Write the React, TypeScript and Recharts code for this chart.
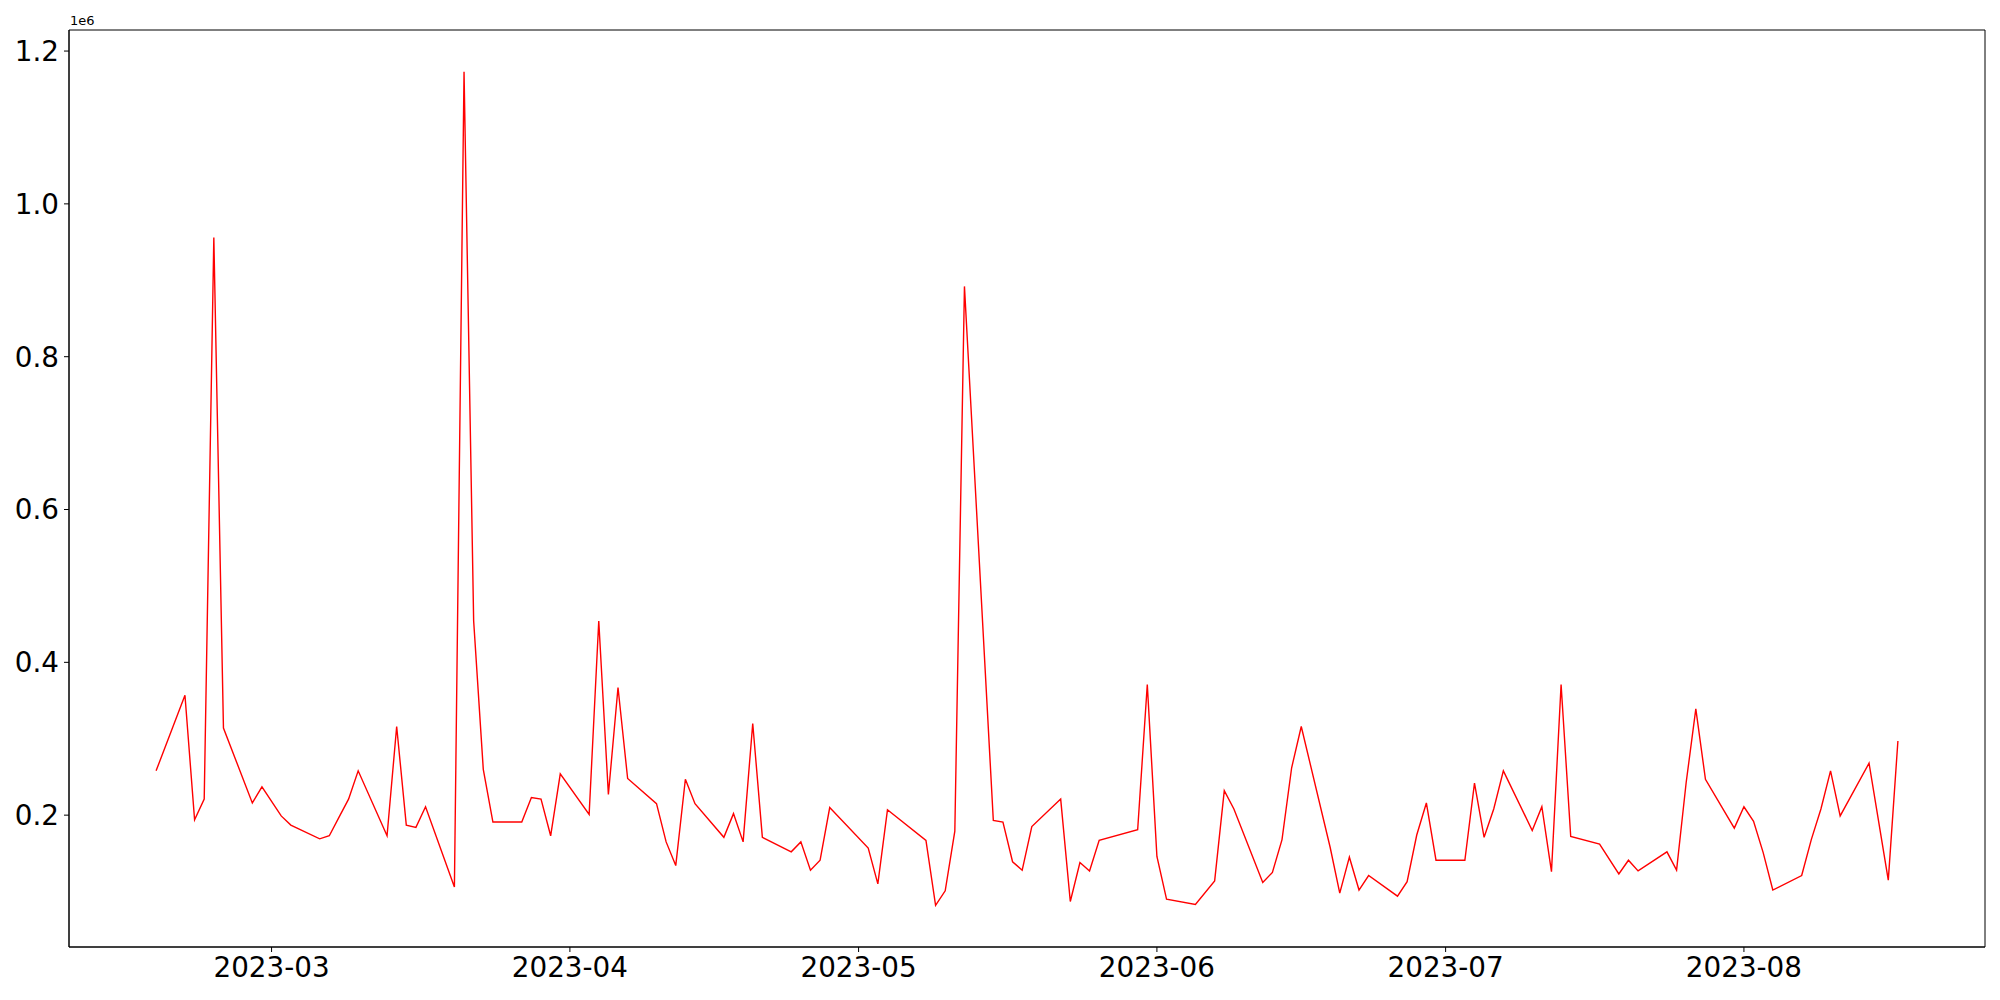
import React from "react";
import { LineChart, Line, XAxis, YAxis, ReferenceArea } from "recharts";

const dates: string[] = [
  "2023-02-17", "2023-02-20", "2023-02-21", "2023-02-22", "2023-02-23", "2023-02-24",
  "2023-02-27", "2023-02-28", "2023-03-02", "2023-03-03", "2023-03-06", "2023-03-07",
  "2023-03-08", "2023-03-09", "2023-03-10", "2023-03-13", "2023-03-14", "2023-03-15",
  "2023-03-16", "2023-03-17", "2023-03-20", "2023-03-21", "2023-03-22", "2023-03-23",
  "2023-03-24", "2023-03-27", "2023-03-28", "2023-03-29", "2023-03-30", "2023-03-31",
  "2023-04-03", "2023-04-04", "2023-04-05", "2023-04-06", "2023-04-07", "2023-04-10",
  "2023-04-11", "2023-04-12", "2023-04-13", "2023-04-14", "2023-04-17", "2023-04-18",
  "2023-04-19", "2023-04-20", "2023-04-21", "2023-04-24", "2023-04-25", "2023-04-26",
  "2023-04-27", "2023-04-28", "2023-05-02", "2023-05-03", "2023-05-04", "2023-05-08",
  "2023-05-09", "2023-05-10", "2023-05-11", "2023-05-12", "2023-05-15", "2023-05-16",
  "2023-05-17", "2023-05-18", "2023-05-19", "2023-05-22", "2023-05-23", "2023-05-24",
  "2023-05-25", "2023-05-26", "2023-05-30", "2023-05-31", "2023-06-01", "2023-06-02",
  "2023-06-05", "2023-06-07", "2023-06-08", "2023-06-09", "2023-06-12", "2023-06-13",
  "2023-06-14", "2023-06-15", "2023-06-16", "2023-06-19", "2023-06-20", "2023-06-21",
  "2023-06-22", "2023-06-23", "2023-06-26", "2023-06-27", "2023-06-28", "2023-06-29",
  "2023-06-30", "2023-07-03", "2023-07-04", "2023-07-05", "2023-07-06", "2023-07-07",
  "2023-07-10", "2023-07-11", "2023-07-12", "2023-07-13", "2023-07-14", "2023-07-17",
  "2023-07-19", "2023-07-20", "2023-07-21", "2023-07-24", "2023-07-25", "2023-07-26",
  "2023-07-27", "2023-07-28", "2023-07-31", "2023-08-01", "2023-08-02", "2023-08-03",
  "2023-08-04", "2023-08-07", "2023-08-08", "2023-08-09", "2023-08-10", "2023-08-11",
  "2023-08-14", "2023-08-16", "2023-08-17",
];

const values: number[] = [
  258000, 357000, 194000, 221000, 956000, 314000,
  216000, 237000, 199000, 187000, 169000, 173000,
  197000, 221000, 258000, 173000, 316000, 187000,
  184000, 211000, 106000, 1173000, 454000, 260000,
  191000, 191000, 223000, 221000, 173000, 254000,
  201000, 454000, 227000, 367000, 248000, 215000,
  165000, 134000, 247000, 215000, 171000, 202000,
  165000, 320000, 171000, 152000, 165000, 128000,
  141000, 210000, 157000, 110000, 207000, 167000,
  82000, 101000, 179000, 892000, 193000, 191000,
  139000, 128000, 185000, 221000, 87000, 138000,
  127000, 167000, 181000, 371000, 146000, 90000,
  83000, 114000, 232000, 208000, 112000, 125000,
  168000, 262000, 316000, 158000, 98000, 145000,
  102000, 121000, 94000, 113000, 174000, 216000,
  141000, 141000, 242000, 171000, 208000, 258000,
  180000, 211000, 126000, 371000, 172000, 162000,
  123000, 141000, 127000, 152000, 128000, 243000,
  339000, 247000, 183000, 211000, 192000, 151000,
  102000, 121000, 168000, 208000, 258000, 199000,
  268000, 115000, 297000,
];

const monthTicks: string[] = ["2023-03-01", "2023-04-01", "2023-05-01", "2023-06-01", "2023-07-01", "2023-08-01"];
const yTicks: number[] = [200000, 400000, 600000, 800000, 1000000, 1200000];

const toDay = (s: string) => {
  const [y, m, d] = s.split("-").map(Number);
  return Date.UTC(y, m - 1, d) / 86400000;
};

const fmtMonth = (day: number) => {
  const dt = new Date(day * 86400000);
  return `${dt.getUTCFullYear()}-${String(dt.getUTCMonth() + 1).padStart(2, "0")}`;
};

const data = dates.map((d, i) => ({ day: toDay(d), value: values[i] }));

// matplotlib-style 5% margins
const xMin = toDay(dates[0]);
const xMax = toDay(dates[dates.length - 1]);
const xPad = (xMax - xMin) * 0.05;
const yMin = Math.min(...values);
const yMax = Math.max(...values);
const yPad = (yMax - yMin) * 0.05;
const xDomain = [xMin - xPad, xMax + xPad];
const yDomain = [yMin - yPad, yMax + yPad];

const font = "'DejaVu Sans', sans-serif";
const tickStyle = { fontSize: 27.8, fill: "#000", fontFamily: font };

export default function App() {
  return (
    <div style={{ position: "absolute", left: 0, top: 0, width: 2000, height: 1000, background: "#fff" }}>
      <div
        style={{
          position: "absolute",
          left: 70,
          top: 14,
          fontSize: 13,
          lineHeight: 1,
          fontFamily: font,
          color: "#000",
        }}
      >
        1e6
      </div>
      <LineChart width={2000} height={1000} data={data} margin={{ top: 30, right: 15, bottom: 0, left: 0 }}>
        <XAxis
          dataKey="day"
          type="number"
          domain={xDomain}
          ticks={monthTicks.map(toDay)}
          tickFormatter={fmtMonth}
          allowDataOverflow
          height={53}
          stroke="#000"
          tick={tickStyle}
          tickSize={5}
          tickMargin={5}
        />
        <YAxis
          type="number"
          domain={yDomain}
          ticks={yTicks}
          tickFormatter={(v: number) => (v / 1e6).toFixed(1)}
          allowDataOverflow
          width={69}
          stroke="#000"
          tick={tickStyle}
          tickSize={5}
          tickMargin={5}
        />
        {/* frame (top/right spines) */}
        <ReferenceArea
          x1={xDomain[0]}
          x2={xDomain[1]}
          y1={yDomain[0]}
          y2={yDomain[1]}
          fill="none"
          stroke="#000"
          strokeWidth={1}
          ifOverflow="visible"
        />
        <Line
          type="linear"
          dataKey="value"
          stroke="#ff0000"
          strokeWidth={1.4}
          dot={false}
          activeDot={false}
          isAnimationActive={false}
        />
      </LineChart>
    </div>
  );
}
